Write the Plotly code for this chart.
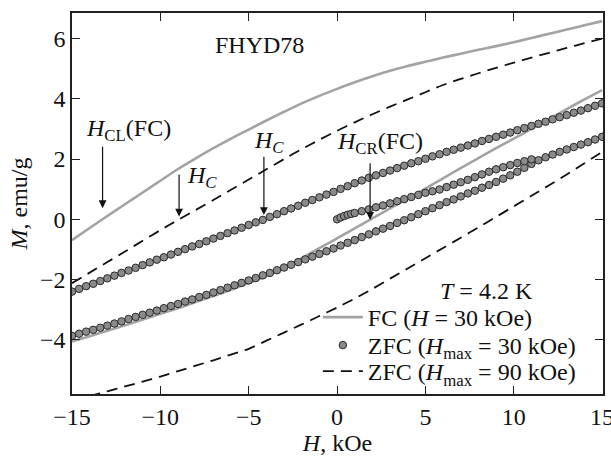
import plotly.graph_objects as go

# ---------------- data ----------------
H_LINE = [-15, -14, -13, -12, -11, -10, -9, -8, -7, -6, -5, -4, -3, -2, -1, 0,
          1, 2, 3, 4, 5, 6, 7, 8, 9, 10, 11, 12, 13, 14, 15]

# FC (H = 30 kOe), gray solid line: descending-field branch and ascending-field branch
FC_DESC = [-0.69, -0.29, 0.11, 0.50, 0.89, 1.28, 1.67, 2.02, 2.36, 2.68, 2.98, 3.28,
           3.57, 3.85, 4.10, 4.33, 4.55, 4.75, 4.93, 5.09, 5.23, 5.37, 5.50, 5.63,
           5.75, 5.88, 6.02, 6.16, 6.30, 6.44, 6.58]
FC_ASC = [-4.06, -3.88, -3.70, -3.52, -3.33, -3.14, -2.95, -2.75, -2.55, -2.34, -2.12,
          -1.88, -1.62, -1.29, -0.96, -0.63, -0.30, 0.03, 0.36, 0.69, 1.02, 1.36, 1.70,
          2.03, 2.36, 2.68, 3.00, 3.33, 3.66, 3.98, 4.29]

# ZFC (Hmax = 90 kOe), dashed line
ZFC90_DESC = [-2.12, -1.77, -1.42, -1.07, -0.71, -0.36, -0.02, 0.31, 0.64, 0.98, 1.32,
              1.66, 2.00, 2.33, 2.64, 2.94, 3.22, 3.49, 3.74, 3.98, 4.22, 4.46, 4.66,
              4.85, 5.03, 5.20, 5.37, 5.53, 5.69, 5.85, 6.00]
ZFC90_ASC = [-6.03, -5.87, -5.71, -5.55, -5.39, -5.22, -5.04, -4.86, -4.68, -4.49, -4.30,
             -4.03, -3.76, -3.49, -3.21, -2.93, -2.63, -2.31, -1.97, -1.63, -1.29, -0.95,
             -0.61, -0.27, 0.08, 0.43, 0.78, 1.13, 1.49, 1.86, 2.24]

# ZFC (Hmax = 30 kOe), circles
H_PTS = [-15.0, -14.6, -14.2, -13.8, -13.4, -13.0, -12.6, -12.2, -11.8, -11.4, -11.0,
         -10.6, -10.2, -9.8, -9.4, -9.0, -8.6, -8.2, -7.8, -7.4, -7.0, -6.6, -6.2,
         -5.8, -5.4, -5.0, -4.6, -4.2, -3.8, -3.4, -3.0, -2.6, -2.2, -1.8, -1.4, -1.0,
         -0.6, -0.2, 0.2, 0.6, 1.0, 1.4, 1.8, 2.2, 2.6, 3.0, 3.4, 3.8, 4.2, 4.6, 5.0,
         5.4, 5.8, 6.2, 6.6, 7.0, 7.4, 7.8, 8.2, 8.6, 9.0, 9.4, 9.8, 10.2, 10.6, 11.0,
         11.4, 11.8, 12.2, 12.6, 13.0, 13.4, 13.8, 14.2, 14.6, 15.0]
ZFC30_DESC = [-2.40, -2.31, -2.22, -2.14, -2.05, -1.96, -1.87, -1.78, -1.70, -1.61, -1.52,
              -1.43, -1.34, -1.26, -1.17, -1.08, -0.99, -0.90, -0.82, -0.73, -0.64, -0.55,
              -0.46, -0.37, -0.28, -0.19, -0.10, -0.02, 0.08, 0.17, 0.27, 0.36, 0.45,
              0.55, 0.64, 0.73, 0.82, 0.91, 1.01, 1.10, 1.20, 1.29, 1.38, 1.46, 1.54,
              1.62, 1.70, 1.78, 1.86, 1.93, 2.01, 2.09, 2.16, 2.24, 2.31, 2.38, 2.45,
              2.52, 2.60, 2.67, 2.74, 2.81, 2.88, 2.96, 3.03, 3.10, 3.17, 3.24, 3.32,
              3.39, 3.46, 3.54, 3.61, 3.69, 3.77, 3.85]
ZFC30_ASC = [-3.87, -3.80, -3.73, -3.67, -3.60, -3.53, -3.46, -3.39, -3.31, -3.24, -3.17,
             -3.10, -3.03, -2.95, -2.88, -2.81, -2.73, -2.66, -2.58, -2.51, -2.43, -2.35,
             -2.27, -2.19, -2.11, -2.03, -1.95, -1.86, -1.78, -1.69, -1.60, -1.51, -1.42,
             -1.33, -1.24, -1.15, -1.06, -0.97, -0.87, -0.78, -0.69, -0.59, -0.50, -0.40,
             -0.31, -0.22, -0.12, -0.03, 0.07, 0.17, 0.27, 0.37, 0.47, 0.57, 0.66, 0.76,
             0.86, 0.95, 1.05, 1.14, 1.24, 1.35, 1.46, 1.58, 1.71, 1.84, 1.96, 2.06,
             2.15, 2.24, 2.32, 2.40, 2.48, 2.56, 2.65, 2.74]
# initial (virgin) curve after zero-field cooling
H_VIRGIN = [0.0, 0.2, 0.4, 0.6, 0.8, 1.0, 1.4, 1.8, 2.2, 2.6, 3.0, 3.4, 3.8, 4.2, 4.6,
            5.0, 5.4, 5.8, 6.2, 6.6, 7.0, 7.4, 7.8, 8.2, 8.6, 9.0, 9.4, 9.8, 10.2,
            10.6, 11.0]
ZFC30_VIRGIN = [0.00, 0.06, 0.11, 0.15, 0.18, 0.21, 0.27, 0.33, 0.40, 0.46, 0.53, 0.60,
                0.67, 0.74, 0.81, 0.88, 0.93, 0.99, 1.07, 1.15, 1.23, 1.31, 1.40, 1.49,
                1.58, 1.66, 1.73, 1.80, 1.87, 1.93, 1.99]

X_TICKS = [-15, -10, -5, 0, 5, 10, 15]
Y_TICKS = [-4, -2, 0, 2, 4, 6]

# ---------------- styling ----------------
FONT = "Liberation Serif"
TXT = "#111111"
GRAY = "#a3a3a3"
FS = 24
LEG_FS = 24

fig = go.Figure()

# FC gray lines
fig.add_trace(go.Scatter(x=H_LINE, y=FC_DESC, mode="lines", name="FC (<i>H</i> = 30 kOe)",
                         line=dict(color=GRAY, width=2.6, shape="spline", smoothing=0.8),
                         legendgroup="fc", legend="legend"))
fig.add_trace(go.Scatter(x=H_LINE, y=FC_ASC, mode="lines", showlegend=False,
                         line=dict(color=GRAY, width=2.6, shape="spline", smoothing=0.8),
                         legendgroup="fc", legend="legend"))
# ZFC 90 dashed lines
dash_line = dict(color="#111111", width=1.8, dash="11px,7px", shape="spline", smoothing=0.8)
fig.add_trace(go.Scatter(x=H_LINE, y=ZFC90_DESC, mode="lines",
                         name="ZFC (<i>H</i><sub>max</sub> = 90 kOe)",
                         line=dash_line, legendgroup="z90", legend="legend3"))
fig.add_trace(go.Scatter(x=H_LINE, y=ZFC90_ASC, mode="lines", showlegend=False,
                         line=dash_line, legendgroup="z90", legend="legend3"))
# ZFC 30 circles
mk = dict(symbol="circle", size=7.5, color="#8a8a8a", line=dict(color="#2a2a2a", width=1))
fig.add_trace(go.Scatter(x=H_PTS, y=ZFC30_DESC, mode="markers",
                         name="ZFC (<i>H</i><sub>max</sub> = 30 kOe)",
                         marker=mk, legendgroup="z30", legend="legend2"))
fig.add_trace(go.Scatter(x=H_PTS, y=ZFC30_ASC, mode="markers", showlegend=False,
                         marker=mk, legendgroup="z30", legend="legend2"))
fig.add_trace(go.Scatter(x=H_VIRGIN, y=ZFC30_VIRGIN, mode="markers", showlegend=False,
                         marker=mk, legendgroup="z30", legend="legend2"))

# ---------------- annotations ----------------
def label(x, y, text):
    fig.add_annotation(x=x, y=y, text=text, showarrow=False,
                       font=dict(family=FONT, size=FS, color=TXT))

def arrow(x, y_tail, y_tip):
    fig.add_annotation(x=x, y=y_tip, ax=x, ay=y_tail, axref="x", ayref="y",
                       text="", showarrow=True, arrowhead=2, arrowsize=1.3,
                       arrowwidth=1.2, arrowcolor=TXT, standoff=0, startstandoff=0)

label(-4.4, 5.78, "FHYD78")
label(-11.8, 2.95, "<i>H</i><sub>CL</sub>(FC)")
arrow(-13.27, 2.46, 0.37)
label(-7.66, 1.39, "<i>H</i><sub><i>C</i></sub>")
arrow(-8.94, 1.54, 0.09)
label(-3.84, 2.56, "<i>H</i><sub><i>C</i></sub>")
arrow(-4.14, 2.13, 0.14)
label(2.43, 2.53, "<i>H</i><sub>CR</sub>(FC)")
arrow(1.87, 1.91, -0.02)
label(8.45, -2.38, "<i>T</i> = 4.2 K")

axis_common = dict(showline=True, linecolor="#222222", linewidth=1.5, mirror="ticks",
                   ticks="inside", ticklen=8, tickwidth=1.3, tickcolor="#222222",
                   showgrid=False, zeroline=False, automargin=False,
                   ticklabeloverflow="allow",
                   tickfont=dict(family=FONT, size=FS, color=TXT))

leg_common = dict(x=0.463, xanchor="left", yanchor="top", bgcolor="rgba(0,0,0,0)",
                  borderwidth=0, itemwidth=40,
                  font=dict(family=FONT, size=LEG_FS, color=TXT))

fig.update_layout(
    width=611, height=457,
    margin=dict(l=72, r=8, t=13, b=63),
    paper_bgcolor="white", plot_bgcolor="white",
    font=dict(family=FONT, size=FS, color=TXT),
    xaxis=dict(range=[-15, 15.05], tickvals=X_TICKS,
               title=dict(text="<i>H</i>, kOe", font=dict(family=FONT, size=FS, color=TXT),
                          standoff=2),
               **axis_common),
    yaxis=dict(range=[-5.8, 6.85], tickvals=Y_TICKS,
               title=dict(text="<i>M</i>, emu/g", font=dict(family=FONT, size=FS, color=TXT),
                          standoff=6),
               **axis_common),
    legend=dict(y=0.2598, **leg_common),
    legend2=dict(y=0.1864, **leg_common),
    legend3=dict(y=0.1181, **leg_common),
    showlegend=True,
)

# remove the browser's default 8px page margin so the 611x457 figure fills the window
fig.write_html("out.html", config={"displayModeBar": False},
               post_script="document.body.style.margin='0';document.body.style.overflow='hidden';")
